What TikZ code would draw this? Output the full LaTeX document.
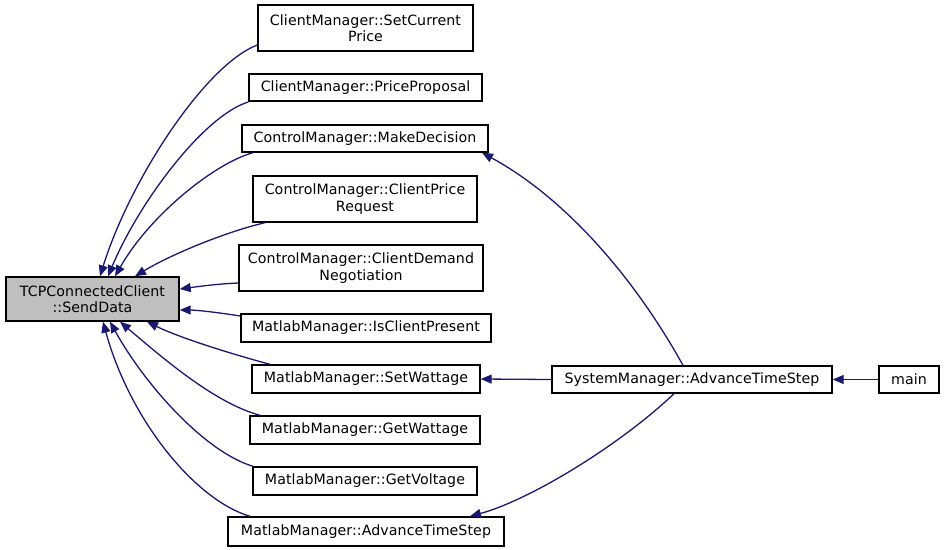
\documentclass[tikz,border=0pt]{standalone}
\usepackage{fontspec}
\setmainfont{DejaVu Sans}[LetterSpace=0.5]
\usetikzlibrary{arrows.meta}
\definecolor{edgeblue}{HTML}{191970}
\definecolor{boxgray}{HTML}{BFBFBF}
\begin{document}
\begin{tikzpicture}[x=1pt,y=-1pt,
  fn/.style={draw=black,line width=1.4pt,fill=white,rectangle,inner sep=0pt,align=center,
    font=\fontsize{14.2}{16.5}\selectfont},
  edge/.style={draw=edgeblue,line width=1.3pt,-{Triangle[length=11pt,width=9pt]}}]
\useasboundingbox (0,0) rectangle (944,549);
\node[fn,fill=boxgray,minimum width=173pt,minimum height=44pt] (tcp) at (92.5,299) {TCPConnectedClient\\::SendData};
\node[fn,minimum width=215pt,minimum height=46pt] (scp) at (365.5,28) {ClientManager::SetCurrent\\Price};
\node[fn,minimum width=233pt,minimum height=27pt] (pp) at (365.5,87.5) {ClientManager::PriceProposal};
\node[fn,minimum width=246pt,minimum height=27pt] (md) at (365,138.5) {ControlManager::MakeDecision};
\node[fn,minimum width=224pt,minimum height=46pt] (cpr) at (365,199) {ControlManager::ClientPrice\\Request};
\node[fn,minimum width=244pt,minimum height=46pt] (cdn) at (361,268) {ControlManager::ClientDemand\\Negotiation};
\node[fn,minimum width=250pt,minimum height=28pt] (icp) at (366,328) {MatlabManager::IsClientPresent};
\node[fn,minimum width=228pt,minimum height=28pt] (sw) at (366,379) {MatlabManager::SetWattage};
\node[fn,minimum width=230pt,minimum height=28pt] (gw) at (365,430) {MatlabManager::GetWattage};
\node[fn,minimum width=224pt,minimum height=28pt] (gv) at (365,481) {MatlabManager::GetVoltage};
\node[fn,minimum width=276pt,minimum height=29pt] (mats) at (366,531.5) {MatlabManager::AdvanceTimeStep};
\node[fn,minimum width=280pt,minimum height=27pt] (sys) at (692,379.5) {SystemManager::AdvanceTimeStep};
\node[fn,minimum width=60pt,minimum height=27pt] (main) at (909,379.5) {main};
% edges into TCPConnectedClient::SendData
\draw[edge] ([yshift=-17pt]scp.west) .. controls (205,65) and (130,180) .. ([xshift=7.5pt]tcp.north);
\draw[edge] ([yshift=-14.5pt]pp.west) .. controls (205,115) and (140,200) .. ([xshift=15.5pt]tcp.north);
\draw[edge] ([xshift=-112pt]md.south) .. controls (215,163) and (150,215) .. ([xshift=22.5pt]tcp.north);
\draw[edge] ([xshift=-100pt]cpr.south) .. controls (225,232) and (170,255) .. ([xshift=42.5pt]tcp.north);
\draw[edge] ([yshift=-15pt]cdn.west) .. controls (215,284) and (195,287) .. ([yshift=10pt]tcp.east);
\draw[edge] ([yshift=12pt]icp.west) .. controls (215,312) and (195,310) .. ([yshift=-11pt]tcp.east);
\draw[edge] ([xshift=-96pt]sw.north) .. controls (235,355) and (180,338) .. ([xshift=54.5pt]tcp.south);
\draw[edge] ([xshift=-105pt]gw.north) .. controls (215,403) and (165,360) .. ([xshift=27.5pt]tcp.south);
\draw[edge] ([xshift=-112pt]gv.north) .. controls (205,452) and (145,385) .. ([xshift=17.5pt]tcp.south);
\draw[edge] ([xshift=-116pt]mats.north) .. controls (195,500) and (130,420) .. ([xshift=10.5pt]tcp.south);
% edges from SystemManager::AdvanceTimeStep
\draw[edge] ([xshift=-9pt]sys.north) .. controls (630,270) and (560,195) .. ([xshift=117pt]md.south);
\draw[edge] (sys.west) -- (sw.east);
\draw[edge] ([xshift=-18pt]sys.south) .. controls (620,445) and (530,500) .. ([xshift=104pt]mats.north);
\draw[edge] (main.west) -- (sys.east);
\end{tikzpicture}
\end{document}
